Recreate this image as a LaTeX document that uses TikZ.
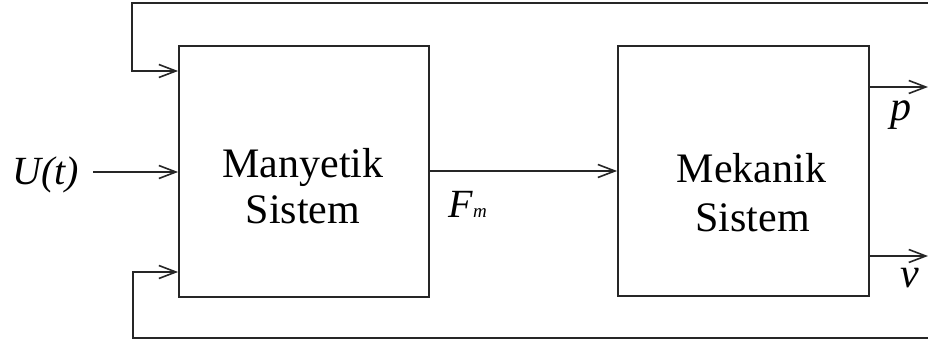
\documentclass[tikz,border=0pt]{standalone}
\usepackage{fontspec}
\setmainfont{Liberation Serif}
\usetikzlibrary{arrows.meta}
\begin{document}
\begin{tikzpicture}[x=1pt,y=-1pt,
  wire/.style={line width=1.8pt,draw=black!85},
  arr/.style={wire,-{Straight Barb[length=17pt,width=13pt,line width=1.6pt]}},
  blockbox/.style={draw=black!85,line width=1.8pt,rectangle,inner sep=0pt},
  lbl/.style={inner sep=0pt,anchor=base,font=\fontsize{42}{46}\selectfont},
  ilbl/.style={inner sep=0pt,anchor=base,font=\fontsize{40}{44}\selectfont\itshape}]
\useasboundingbox (0,0) rectangle (928,344);
% blocks
\node[blockbox,minimum width=250pt,minimum height=251pt] (mag) at (304,171.5) {};
\node[blockbox,minimum width=251pt,minimum height=250pt] (mek) at (743.5,171) {};
\node[lbl] (mag1) at (303,178) {Manyetik};
\node[lbl] (mag2) at (303,224) {Sistem};
\node[lbl] (mek1) at (751.5,183) {Mekanik};
\node[lbl] (mek2) at (752.5,232) {Sistem};
% coordinates
\coordinate (tr) at (928,3);
\coordinate (tl) at (132,3);
\coordinate (tin) at (132,71);
\coordinate (br) at (928,338);
\coordinate (bl) at (133,338);
\coordinate (bin) at (133,272);
\coordinate (uin) at (93,172);
\coordinate (pout) at (928,87);
\coordinate (vout) at (928,256);
% labels
\node[ilbl,anchor=base west] (u) at (12,185) {U(t)};
\node[ilbl,anchor=base west] (f) at (448,218) {F};
\node[inner sep=0pt,anchor=base west,font=\fontsize{19}{20}\selectfont\itshape] (m) at (f.base east) {m};
\node[ilbl,anchor=base west,font=\fontsize{42}{44}\selectfont\itshape] (p) at (890,121) {p};
\node[ilbl,anchor=base west,font=\fontsize{42}{44}\selectfont\itshape] (v) at (900,288) {v};
% connectors
\draw[arr] (tr) -- (tl) -- (tin) -- (tin -| mag.west);
\draw[arr] (br) -- (bl) -- (bin) -- (bin -| mag.west);
\draw[arr] (uin) -- (uin -| mag.west);
\draw[arr] (mag.east |- 0,171) -- (mek.west |- 0,171);
\draw[arr] (pout -| mek.east) -- (pout);
\draw[arr] (vout -| mek.east) -- (vout);
\end{tikzpicture}
\end{document}
